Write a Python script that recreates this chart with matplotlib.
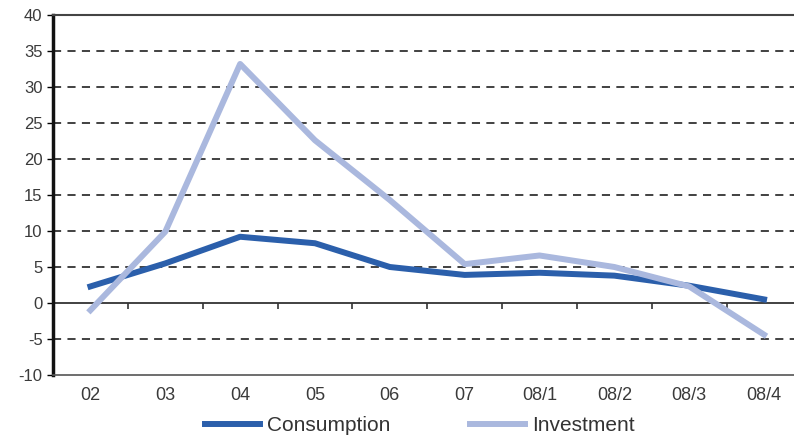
import matplotlib.pyplot as plt
import numpy as np

plt.rcParams['font.family'] = ['Liberation Sans', 'DejaVu Sans']
plt.rcParams['axes.unicode_minus'] = False

periods = ['02', '03', '04', '05', '06', '07', '08/1', '08/2', '08/3', '08/4']
consumption = [2.3, 5.5, 9.2, 8.3, 5.0, 3.9, 4.2, 3.8, 2.4, 0.5]
investment = [-1.0, 9.9, 33.2, 22.6, 14.3, 5.4, 6.6, 5.0, 2.3, -4.4]
y_ticks = list(range(-10, 45, 5))

fig = plt.figure(figsize=(7.94, 4.38), dpi=100)
ax = fig.add_axes([53 / 794, 1 - 375 / 438, 1 - 53 / 794, (375 - 15) / 438])

x = np.arange(len(periods))
ax.plot(x, consumption, color='#2b5fab', lw=4.3, label='Consumption', solid_joinstyle='round')
ax.plot(x, investment, color='#aab8de', lw=4.3, label='Investment', solid_joinstyle='round')

ax.set_ylim(-10, 40)
ax.set_xlim(-0.5, 9.4)
ax.set_yticks(y_ticks)
ax.set_xticks(x)
ax.set_xticklabels(periods)

# dashed grid, but not on the zero line
for v in y_ticks:
    if v not in (-10, 0, 40):
        ax.axhline(v, color='#333333', lw=1.3, ls=(0, (4.5, 3.5)), zorder=0)

ax.tick_params(axis='x', length=0, pad=9, labelsize=13, labelcolor='#3a3a3a')
ax.tick_params(axis='y', length=4, width=1, pad=3.5, labelsize=12, labelcolor='#3a3a3a')

ax.spines['left'].set_linewidth(2.5)
ax.spines['left'].set_color('#111111')
ax.spines['top'].set_linewidth(1.5)
ax.spines['top'].set_color('#444444')
ax.spines['bottom'].set_linewidth(1.2)
ax.spines['bottom'].set_color('#555555')
ax.spines['right'].set_visible(False)

# zero line with category separators
zero = ax.secondary_xaxis(10 / 50)
zero.set_xticks(np.arange(-0.5, 10, 1))
zero.set_xticklabels([])
zero.tick_params(length=4, width=1.2, direction='out', color='#333333')
zero.spines['bottom'].set_linewidth(1.3)
zero.spines['bottom'].set_color('#333333')

fig.legend(loc='center', bbox_to_anchor=(0.529, 0.028), ncol=2, frameon=False,
           fontsize=15, handlelength=2.65, columnspacing=3.8, handletextpad=0.34,
           labelcolor='#333333')

fig.savefig('out.png', dpi=100)
